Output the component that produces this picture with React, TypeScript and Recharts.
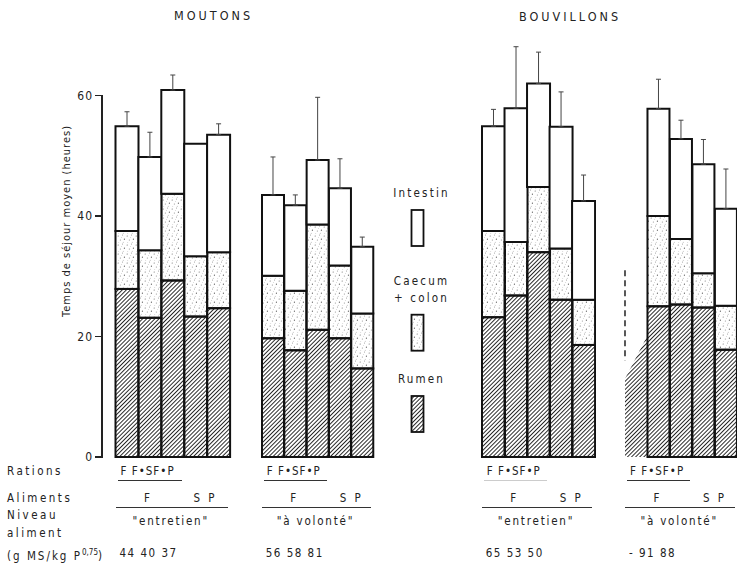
import React from "react";
import { BarChart, Bar, XAxis, YAxis, ErrorBar } from "recharts";

// mean retention time (hours) per compartment
const titles = ["MOUTONS", "BOUVILLONS"];
const rations = ["F", "F+S", "F+P", "S", "P"];
const groupRations = ["F F•SF•P", "F F•SF•P", "F F•SF•P", "F F•SF•P"];
const groupAliments = [["F", "S P"], ["F", "S P"], ["F", "S P"], ["F", "S P"]];
const niveaux = ['"entretien"', '"à volonté"', '"entretien"', '"à volonté"'];
const intakes = ["44 40 37", "56 58 81", "65 53 50", "-  91 88"];
const yTicks = [0, 20, 40, 60];

const rumen = [
  [27.9, 23.1, 29.3, 23.3, 24.7],
  [19.7, 17.7, 21.1, 19.7, 14.7],
  [23.2, 26.8, 34.0, 26.1, 18.6],
  [20.0, 25.0, 25.3, 24.8, 17.8],
];
const caecum = [
  [9.6, 11.2, 14.4, 10.0, 9.3],
  [10.4, 9.9, 17.5, 12.1, 9.1],
  [14.3, 8.9, 10.8, 8.5, 7.5],
  [null, 15.0, 10.9, 5.7, 7.3],
];
const intestin = [
  [17.4, 15.5, 17.2, 18.7, 19.5],
  [13.4, 14.2, 10.7, 12.8, 11.1],
  [17.4, 22.2, 17.2, 20.2, 16.4],
  [null, 17.8, 16.6, 18.1, 16.1],
];
const errors = [
  [2.4, 4.1, 2.5, null, 1.8],
  [6.3, 1.7, 10.4, 4.9, 1.6],
  [2.8, 10.2, 5.2, 5.8, 4.3],
  [null, 4.9, 3.1, 4.1, 6.6],
];
// bar that was not measured (only a hatched wedge and a dashed edge remain)
const missingBar = { group: 3, index: 0, wedgeLeft: 13, dash: [16, 31] };

const legendItems = [
  { key: "intestin", lines: ["Intestin"], fill: "#fff" },
  { key: "caecum", lines: ["Caecum", "+ colon"], fill: "url(#stipple)" },
  { key: "rumen", lines: ["Rumen"], fill: "url(#hatch)" },
];

// layout
const FONT = "'DejaVu Sans Condensed', 'DejaVu Sans', sans-serif";
const INK = "#222";
const zeroY = 457;
const pxPerUnit = 6.025;
const yMax = 72;
const chartH = 470;
const pad = 2;
const axisX = 102;
const groupBox = [
  [115.5, 114.5],
  [261.7, 111.6],
  [481.7, 112.6],
  [625, 112.4],
];

function groupRows(g: number) {
  return rations.map((r, i) => ({
    ration: r,
    rumen: rumen[g][i],
    caecum: caecum[g][i],
    intestin: intestin[g][i],
    err: errors[g][i] == null ? null : [0, errors[g][i]],
    missing: g === missingBar.group && i === missingBar.index,
  }));
}

const RumenShape = (props: any) => {
  const { x, y, width, height, payload } = props;
  if (!height) return null;
  if (payload.missing) {
    const per = height / payload.rumen;
    const bottom = y + height;
    const yl = bottom - missingBar.wedgeLeft * per;
    return (
      <g>
        <polygon
          points={`${x},${bottom} ${x},${yl} ${x + width},${y} ${x + width},${bottom}`}
          fill="url(#hatch)"
        />
        <line
          x1={x}
          x2={x}
          y1={bottom - missingBar.dash[1] * per}
          y2={bottom - missingBar.dash[0] * per}
          stroke={INK}
          strokeWidth={1.5}
          strokeDasharray="6 4"
        />
      </g>
    );
  }
  return <rect x={x} y={y} width={width} height={height} fill="url(#hatch)" stroke="#111" strokeWidth={2} />;
};

const AxisTickLabel = (props: any) => {
  const { y, payload } = props;
  return (
    <text x={axisX - 9} y={y} textAnchor="end" dominantBaseline="central" fill={INK} fontSize={12} style={{ letterSpacing: 1 }}>
      {payload.value}
    </text>
  );
};

const Txt = ({ x, y, children, anchor = "start", size = 11.5, spacing = 2.5 }: any) => (
  <div
    style={{
      position: "absolute",
      left: x,
      top: y - 8,
      lineHeight: "16px",
      fontSize: size,
      letterSpacing: spacing,
      whiteSpace: "nowrap",
      color: INK,
      transform: anchor === "middle" ? "translateX(-50%)" : undefined,
    }}
  >
    {children}
  </div>
);

const Rule = ({ x1, x2, y, color = "#333" }: any) => (
  <div style={{ position: "absolute", left: x1, top: y, width: x2 - x1, height: 1, background: color }} />
);

const AxisLabel = (props: any) => {
  const { x, y, height } = props.viewBox;
  const cx = x + 66;
  const cy = y + height - 236;
  return (
    <text
      x={cx}
      y={cy}
      transform={`rotate(-90 ${cx} ${cy})`}
      textAnchor="middle"
      dominantBaseline="central"
      fill={INK}
      fontSize={11}
      style={{ letterSpacing: 1 }}
    >
      Temps de séjour moyen (heures)
    </text>
  );
};

// axis frame: line from 0 up to the top tick, with outward tick marks
const tickY = (v: number) => zeroY - v * pxPerUnit;
const AxisFrame = () => {
  const top = tickY(yTicks[yTicks.length - 1]);
  return (
    <>
      <div
        style={{
          position: "absolute",
          left: axisX - 1,
          top: top - 0.5,
          width: 2,
          height: zeroY - top + 1,
          background: INK,
          zIndex: 5,
        }}
      />
      {yTicks.map((v) => (
        <div
          key={v}
          style={{ position: "absolute", left: axisX - 7, top: tickY(v) - 0.6, width: 7, height: 1.3, background: INK, zIndex: 5 }}
        />
      ))}
    </>
  );
};

export default function App() {
  return (
    <div
      style={{
        position: "absolute",
        left: 0,
        top: 0,
        width: 737,
        height: 563,
        overflow: "hidden",
        background: "#fff",
        fontFamily: FONT,
      }}
    >
      <svg width={0} height={0} style={{ position: "absolute" }}>
        <defs>
          <pattern id="hatch" patternUnits="userSpaceOnUse" width={2.9} height={2.9} patternTransform="rotate(45)">
            <line x1={1.45} y1={0} x2={1.45} y2={2.9} stroke="#222" strokeWidth={0.95} />
          </pattern>
          <pattern id="stipple" patternUnits="userSpaceOnUse" width={9} height={9}>
            <circle cx={1.2} cy={2} r={0.55} fill="#666" />
            <circle cx={5.5} cy={1} r={0.5} fill="#888" />
            <circle cx={7.4} cy={5.2} r={0.6} fill="#555" />
            <circle cx={3.3} cy={6.1} r={0.5} fill="#777" />
            <circle cx={6.2} cy={8.2} r={0.45} fill="#888" />
            <circle cx={1.8} cy={8.6} r={0.4} fill="#999" />
            <circle cx={4.4} cy={3.6} r={0.4} fill="#999" />
          </pattern>
        </defs>
      </svg>

      {groupBox.map(([left, w], g) => {
        const withAxis = g === 0;
        const chartLeft = withAxis ? 0 : left - pad;
        return (
          <div key={g} style={{ position: "absolute", left: chartLeft, top: 0 }}>
            <BarChart
              width={left + w + pad - chartLeft}
              height={chartH}
              data={groupRows(g)}
              margin={{ top: zeroY - yMax * pxPerUnit, right: pad, bottom: chartH - zeroY, left: withAxis ? 0 : pad }}
              barCategoryGap={0}
              barGap={0}
            >
              <XAxis dataKey="ration" hide padding={withAxis ? { left: left - axisX, right: 0 } : undefined} />
              {withAxis ? (
                <YAxis
                  width={axisX}
                  domain={[0, yMax]}
                  ticks={yTicks}
                  interval={0}
                  axisLine={false}
                  tickLine={false}
                  tick={AxisTickLabel}
                  label={AxisLabel}
                />
              ) : (
                <YAxis hide domain={[0, yMax]} />
              )}
              <Bar dataKey="rumen" stackId="s" shape={RumenShape} isAnimationActive={false} />
              <Bar dataKey="caecum" stackId="s" fill="url(#stipple)" stroke="#111" strokeWidth={2} isAnimationActive={false} />
              <Bar dataKey="intestin" stackId="s" fill="#fff" stroke="#111" strokeWidth={2} isAnimationActive={false}>
                <ErrorBar dataKey="err" direction="y" width={2.5} stroke="#444" strokeWidth={1} />
              </Bar>
            </BarChart>
          </div>
        );
      })}

      <AxisFrame />

      {/* titles */}
      <Txt x={174} y={16} size={12.5} spacing={3}>{titles[0]}</Txt>
      <Txt x={519} y={16.5} size={12.5} spacing={3}>{titles[1]}</Txt>

      {/* legend */}
      <svg width={90} height={270} style={{ position: "absolute", left: 380, top: 170 }}>
        {legendItems.map((it, k) => {
          const top = [23, 110.7, 209][k];
          const boxTop = top + (it.lines.length - 1) * 17 + 17;
          return (
            <g key={it.key}>
              {it.lines.map((ln, j) => (
                <text
                  key={j}
                  x={41.5}
                  y={top + j * 17}
                  textAnchor="middle"
                  dominantBaseline="central"
                  fontSize={11.5}
                  fill={INK}
                  style={{ letterSpacing: 2.2 }}
                >
                  {ln}
                </text>
              ))}
              <rect x={31.5} y={boxTop} width={12} height={36} fill={it.fill} stroke="#111" strokeWidth={1.8} />
            </g>
          );
        })}
      </svg>

      {/* row headers */}
      <Txt x={7} y={471}>Rations</Txt>
      <Txt x={7} y={498}>Aliments</Txt>
      <Txt x={7} y={515}>Niveau</Txt>
      <Txt x={7} y={533}>aliment</Txt>
      <Txt x={7} y={553} spacing={2}>
        (g MS/kg P<sup style={{ fontSize: 8, letterSpacing: 0 }}>0,75</sup>)
      </Txt>

      {groupBox.map(([left, w], g) => (
        <React.Fragment key={g}>
          <Txt x={left + 5} y={471} spacing={1}>{groupRations[g]}</Txt>
          <Rule x1={left + 2} x2={left + 3 * w / 5 - 2} y={480} color={g === 2 ? "#ccc" : "#333"} />
          <Txt x={left + 32} y={498} anchor="middle" spacing={1}>{groupAliments[g][0]}</Txt>
          <Txt x={left + 78} y={498} spacing={2.5}>{groupAliments[g][1]}</Txt>
          <Rule x1={left} x2={left + w - 2} y={507} />
          <Txt x={left + w / 2 - 2} y={521} anchor="middle" spacing={1.8}>{niveaux[g]}</Txt>
          <Txt x={left + 4} y={553} spacing={1.5}>{intakes[g]}</Txt>
        </React.Fragment>
      ))}
    </div>
  );
}
